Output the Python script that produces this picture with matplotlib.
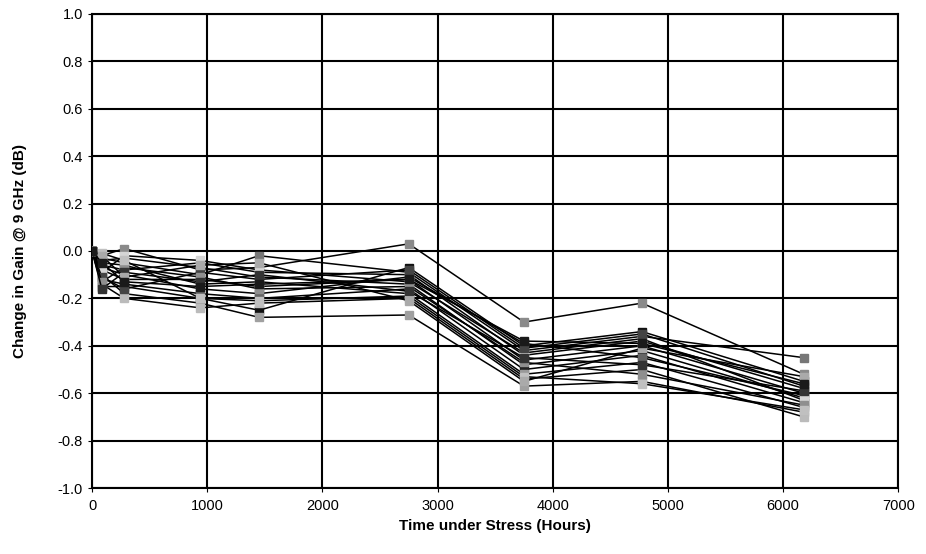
import matplotlib
matplotlib.use("Agg")
import matplotlib.pyplot as plt
from matplotlib.ticker import FormatStrFormatter

plt.rcParams['font.family'] = ['Liberation Sans', 'DejaVu Sans']
plt.rcParams['axes.unicode_minus'] = False

hours = [0, 85, 280, 940, 1450, 2750, 3750, 4775, 6180]

s1 = [0, -0.02, 0.01, -0.08, -0.07, 0.03, -0.30, -0.22, -0.52]
s2 = [0, -0.15, -0.15, -0.20, -0.25, -0.07, -0.40, -0.34, -0.55]
s3 = [0, -0.03, -0.05, -0.10, -0.02, -0.09, -0.42, -0.36, -0.45]
s4 = [0, -0.06, -0.08, -0.05, -0.09, -0.10, -0.44, -0.38, -0.58]
s5 = [0, -0.08, -0.12, -0.12, -0.15, -0.12, -0.46, -0.40, -0.60]
s6 = [0, -0.10, -0.18, -0.22, -0.28, -0.27, -0.57, -0.55, -0.68]
s7 = [0, -0.04, -0.03, -0.07, -0.11, -0.14, -0.48, -0.42, -0.62]
s8 = [0, -0.12, -0.14, -0.18, -0.20, -0.16, -0.50, -0.44, -0.64]
s9 = [0, -0.05, -0.06, -0.14, -0.13, -0.18, -0.52, -0.47, -0.66]
s10 = [0, -0.14, -0.20, -0.24, -0.22, -0.20, -0.54, -0.50, -0.70]
s11 = [0, -0.07, -0.10, -0.16, -0.18, -0.11, -0.39, -0.45, -0.61]
s12 = [0, -0.09, -0.02, -0.04, -0.08, -0.13, -0.43, -0.37, -0.63]
s13 = [0, -0.11, -0.16, -0.09, -0.12, -0.08, -0.41, -0.35, -0.57]
s14 = [0, -0.13, -0.07, -0.11, -0.16, -0.15, -0.47, -0.52, -0.65]
s15 = [0, -0.01, -0.04, -0.20, -0.21, -0.19, -0.53, -0.56, -0.67]
s16 = [0, -0.16, -0.09, -0.13, -0.10, -0.17, -0.45, -0.48, -0.59]
s17 = [0, -0.02, -0.11, -0.06, -0.05, -0.21, -0.55, -0.41, -0.53]
s18 = [0, -0.05, -0.13, -0.15, -0.14, -0.12, -0.38, -0.39, -0.56]

series = [s1, s2, s3, s4, s5, s6, s7, s8, s9, s10, s11, s12, s13, s14, s15, s16, s17, s18]
marker_colors = ['#8a8a8a', '#111111', '#777777', '#b0b0b0', '#555555', '#a0a0a0',
                 '#cccccc', '#222222', '#999999', '#bbbbbb', '#666666', '#d5d5d5',
                 '#444444', '#8f8f8f', '#c0c0c0', '#333333', '#aaaaaa', '#1a1a1a']

fig = plt.figure(figsize=(9.26, 5.54), dpi=100)
ax = fig.add_axes([0.0994, 0.119, 0.8706, 0.856])

for ys, mc in zip(series, marker_colors):
    ax.plot(hours, ys, color='black', linewidth=1.1, marker='s', markersize=5.5,
            markerfacecolor=mc, markeredgecolor=mc, zorder=3)

ax.set_xlim(0, 7000)
ax.set_ylim(-1.0, 1.0)
ax.set_xticks(range(0, 7001, 1000))
ax.set_yticks([-1.0, -0.8, -0.6, -0.4, -0.2, 0.0, 0.2, 0.4, 0.6, 0.8, 1.0])
ax.yaxis.set_major_formatter(FormatStrFormatter('%.1f'))
ax.grid(True, color='black', linewidth=1.5)
ax.set_axisbelow(True)
for sp in ax.spines.values():
    sp.set_color('black')
    sp.set_linewidth(1.5)
ax.tick_params(axis='both', labelsize=10.5, length=3, color='black')
ax.tick_params(axis='x', pad=5)

ax.set_xlabel('Time under Stress (Hours)', fontsize=11, fontweight='bold', labelpad=4)
ax.set_ylabel('Change in Gain @ 9 GHz (dB)', fontsize=11, fontweight='bold', labelpad=22)

fig.savefig('out.png', dpi=100)
